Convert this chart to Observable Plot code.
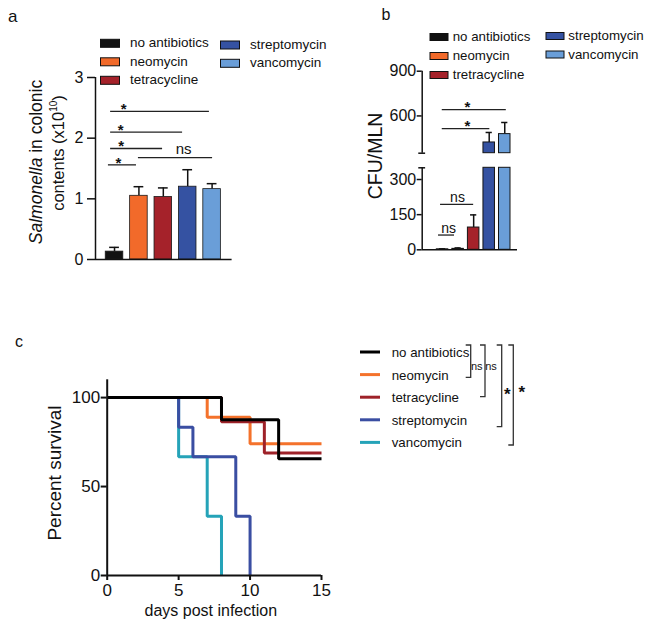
<!DOCTYPE html>
<html>
<head>
<meta charset="utf-8">
<script src="https://cdn.jsdelivr.net/npm/d3@7"></script>
<script src="https://cdn.jsdelivr.net/npm/@observablehq/plot@0.6"></script>
<style>
  html, body { margin: 0; padding: 0; background: #fff; }
  #fig { position: relative; width: 648px; height: 629px; overflow: hidden; background: #fff;
         font-family: "Liberation Sans", Arial, Helvetica, sans-serif; }
  #fig svg { position: absolute; }
</style>
</head>
<body>
<div id="fig"></div>
<script>
// ---------------- DATA ----------------
// Panel a: Salmonella in colonic contents (x10^10)
const groupsA = ["no antibiotics", "neomycin", "tetracycline", "streptomycin", "vancomycin"];
const barColors = ["#111111", "#f26a2a", "#a5222a", "#3552a2", "#6a9ed8"];
const colonMean = [0.13, 1.05, 1.03, 1.20, 1.16];
const colonErr  = [0.07, 0.15, 0.15, 0.28, 0.09];
const aTicks = [0, 1, 2, 3];
// significance lines panel a
const sigAx1 = [-0.16, -0.16, -0.16, -0.25, 0.98];
const sigAx2 = [3.89, 2.79, 1.97, 0.90, 4.02];
const sigAy  = [2.44, 2.10, 1.83, 1.56, 1.68];
const sigAlabel = ["*", "*", "*", "*", "ns"];
const sigAlx = [0.37, 0.25, 0.27, 0.16, 2.83];

// Panel b: CFU/MLN
const groupsB = ["no antibiotics", "neomycin", "tretracycline", "streptomycin", "vancomycin"];
const mlnMean = [2, 4, 95, 422, 478];
const mlnErr  = [2, 4, 54, 67, 78];
const bTicksUpper = [600, 900];
const bTicksLower = [0, 150, 300];
const bBreak = 350;
const bMax = 900;
const sigBx1 = [-0.02, -0.02, -0.13, -0.26];
const sigBx2 = [4.10, 3.04, 2.00, 0.77];
const sigBy  = [642, 515, 194, 63];
const sigBlabel = ["*", "*", "ns", "ns"];
const sigBlx = [1.6, 1.6, 0.96, 0.39];

// Panel c: survival
const survNames = ["no antibiotics", "neomycin", "tetracycline", "streptomycin", "vancomycin"];
const survColors = ["#000000", "#f4722b", "#9e2229", "#3a4ea2", "#25a3b8"];
const survDays = [[0, 8, 12, 15], [0, 7, 10, 15], [0, 8, 11, 15], [0, 5, 6, 9, 10], [0, 5, 7, 8]];
const survPct  = [[100, 87.5, 65.6, 65.6], [100, 88.9, 74.1, 74.1], [100, 86.4, 68.8, 68.8],
                  [100, 83.3, 66.7, 33.3, 0], [100, 66.7, 33.3, 0]];
const survDrawOrder = [4, 3, 1, 2, 0];
const cXTicks = [0, 5, 10, 15];
const cYTicks = [0, 50, 100];
const cSigLabels = ["ns", "ns", "*", "*"];

// ---------------- HELPERS ----------------
const FONT = '"Liberation Sans", Arial, Helvetica, sans-serif';
const fig = document.getElementById("fig");
function place(el, left, top) {
  el.style.position = "absolute";
  el.style.left = left + "px";
  el.style.top = top + "px";
  fig.appendChild(el);
}
const intFmt = d => String(d);
const baseStyle = { fontFamily: FONT, fontSize: "15px", color: "#111", background: "transparent", overflow: "visible" };

// ---------------- PANEL A ----------------
const aRows = groupsA.map((g, i) => ({ i, g, v: colonMean[i], top: colonMean[i] + colonErr[i] }));
const aSig = sigAy.map((y, k) => ({ y, x1: sigAx1[k], x2: sigAx2[k], label: sigAlabel[k], lx: sigAlx[k] }));
const aX = [-0.78, 4.82];
const pa = Plot.plot({
  width: 330, height: 290,
  marginLeft: 95, marginRight: 98.4, marginTop: 77, marginBottom: 31,
  x: { domain: aX, axis: null },
  y: { domain: [0, 3], axis: null },
  color: { domain: groupsA, range: barColors },
  style: baseStyle,
  marks: [
    Plot.ruleX(aRows, { x: "i", y1: "v", y2: "top", stroke: "#111", strokeWidth: 1.5 }),
    Plot.ruleY(aRows, { y: "top", x1: d => d.i - 0.2, x2: d => d.i + 0.2, stroke: "#111", strokeWidth: 1.5 }),
    Plot.rectY(aRows, { x1: d => d.i - 0.36, x2: d => d.i + 0.36, y1: 0, y2: "v", fill: "g", stroke: "#1a1a1a", strokeWidth: 0.8 }),
    Plot.axisY(aTicks, { anchor: "left", tickSize: 8, tickPadding: 4, fontSize: 16, strokeWidth: 1.5, label: null, tickFormat: intFmt }),
    Plot.ruleX([aX[0]], { y1: 0, y2: 3, stroke: "#111", strokeWidth: 1.5 }),
    Plot.ruleY([0], { x1: aX[0], x2: aX[1], stroke: "#111", strokeWidth: 1.5 }),
    Plot.ruleY(aSig, { y: "y", x1: "x1", x2: "x2", stroke: "#222", strokeWidth: 1.3 }),
    Plot.text(aSig.filter(d => d.label === "*"), { x: "lx", y: "y", text: "label", lineAnchor: "bottom", dy: 3, fontSize: 15, fontWeight: "bold", fill: "#111" }),
    Plot.text(aSig.filter(d => d.label !== "*"), { x: "lx", y: "y", text: "label", lineAnchor: "bottom", dy: -4, fontSize: 15, fill: "#111" })
  ]
});
place(pa, 0, 0);

// ---------------- PANEL B ----------------
const bRows = groupsB.map((g, i) => ({ i, g: groupsA[i], v: mlnMean[i], top: mlnMean[i] + mlnErr[i] }));
const bSig = sigBy.map((y, k) => ({ y, x1: sigBx1[k], x2: sigBx2[k], label: sigBlabel[k], lx: sigBlx[k] }));
const bX = [-1.31, 4.82];

// upper segment
const pbU = Plot.plot({
  width: 160, height: 100,
  marginLeft: 51.7, marginRight: 13, marginTop: 10.7, marginBottom: 7.3,
  x: { domain: bX, axis: null },
  y: { domain: [bBreak, bMax], axis: null },
  color: { domain: groupsA, range: barColors },
  style: baseStyle,
  marks: [
    Plot.ruleX(bRows.filter(d => d.top > bBreak), { x: "i", y1: d => Math.max(d.v, bBreak), y2: "top", stroke: "#111", strokeWidth: 1.5 }),
    Plot.ruleY(bRows.filter(d => d.top > bBreak), { y: "top", x1: d => d.i - 0.2, x2: d => d.i + 0.2, stroke: "#111", strokeWidth: 1.5 }),
    Plot.rectY(bRows.filter(d => d.v > bBreak), { x1: d => d.i - 0.37, x2: d => d.i + 0.37, y1: bBreak, y2: "v", fill: "g", stroke: "#151515", strokeWidth: 1 }),
    Plot.axisY(bTicksUpper, { anchor: "left", tickSize: 5, tickPadding: 1, fontSize: 16, strokeWidth: 1.5, label: null, tickFormat: intFmt }),
    Plot.ruleX([bX[0]], { y1: bBreak, y2: bMax, stroke: "#111", strokeWidth: 1.5 }),
    Plot.ruleY([bBreak], { x1: bX[0] - 0.22, x2: bX[0] + 0.22, stroke: "#111", strokeWidth: 1.5 }),
    Plot.ruleY(bSig.filter(d => d.y > bBreak), { y: "y", x1: "x1", x2: "x2", stroke: "#222", strokeWidth: 1.3 }),
    Plot.text(bSig.filter(d => d.y > bBreak), { x: "lx", y: "y", text: "label", lineAnchor: "bottom", dy: 2, fontSize: 15, fontWeight: "bold", fill: "#111" })
  ]
});
place(pbU, 370, 60);

// lower segment
const pbL = Plot.plot({
  width: 160, height: 120,
  marginLeft: 51.7, marginRight: 13, marginTop: 7.3, marginBottom: 30.7,
  x: { domain: bX, axis: null },
  y: { domain: [0, bBreak], axis: null },
  color: { domain: groupsA, range: barColors },
  style: baseStyle,
  marks: [
    Plot.ruleX(bRows.filter(d => d.v < bBreak), { x: "i", y1: "v", y2: d => Math.min(d.top, bBreak), stroke: "#111", strokeWidth: 1.5 }),
    Plot.ruleY(bRows.filter(d => d.top < bBreak), { y: "top", x1: d => d.i - 0.2, x2: d => d.i + 0.2, stroke: "#111", strokeWidth: 1.5 }),
    Plot.rectY(bRows, { x1: d => d.i - 0.37, x2: d => d.i + 0.37, y1: 0, y2: d => Math.min(d.v, bBreak), fill: "g", stroke: "#151515", strokeWidth: 1 }),
    Plot.axisY(bTicksLower, { anchor: "left", tickSize: 5, tickPadding: 1, fontSize: 16, strokeWidth: 1.5, label: null, tickFormat: intFmt }),
    Plot.ruleX([bX[0]], { y1: 0, y2: bBreak, stroke: "#111", strokeWidth: 1.5 }),
    Plot.ruleY([bBreak], { x1: bX[0] - 0.22, x2: bX[0] + 0.22, stroke: "#111", strokeWidth: 1.5 }),
    Plot.ruleY([0], { x1: bX[0], x2: bX[1], stroke: "#111", strokeWidth: 1.5 }),
    Plot.ruleY(bSig.filter(d => d.y < bBreak), { y: "y", x1: "x1", x2: "x2", stroke: "#222", strokeWidth: 1.3 }),
    Plot.text(bSig.filter(d => d.y < bBreak), { x: "lx", y: "y", text: "label", lineAnchor: "bottom", dy: -2, fontSize: 14, fill: "#111" })
  ]
});
place(pbL, 370, 160);

// ---------------- PANEL C ----------------
const survRows = [];
for (const s of survDrawOrder) {
  survDays[s].forEach((day, k) => survRows.push({ name: survNames[s], day, pct: survPct[s][k] }));
}
const pc = Plot.plot({
  width: 340, height: 259,
  marginLeft: 106.7, marginRight: 19, marginTop: 9.3, marginBottom: 54,
  x: { domain: [0, 15], axis: null },
  y: { domain: [0, 110], axis: null },
  color: { domain: survNames, range: survColors },
  style: baseStyle,
  marks: [
    Plot.line(survRows, { x: "day", y: "pct", z: "name", stroke: "name", curve: "step-after", strokeWidth: 3, strokeLinejoin: "miter", strokeLinecap: "butt" }),
    Plot.axisY(cYTicks, { anchor: "left", tickSize: 6, tickPadding: 1, fontSize: 17, strokeWidth: 2, label: null, tickFormat: intFmt }),
    Plot.axisX(cXTicks, { anchor: "bottom", tickSize: 5, tickPadding: 3, fontSize: 17, strokeWidth: 2, label: null, tickFormat: intFmt }),
    Plot.ruleX([0], { y1: 0, y2: 110, stroke: "#111", strokeWidth: 2 }),
    Plot.ruleY([0], { x1: 0, x2: 15, stroke: "#111", strokeWidth: 2 })
  ]
});
place(pc, 0, 370);

// ---------------- OVERLAY: labels & legends ----------------
const ov = d3.select(fig).append("svg")
  .attr("width", 648).attr("height", 629)
  .style("left", "0px").style("top", "0px")
  .style("pointer-events", "none")
  .attr("font-family", FONT).attr("fill", "#111");

// panel letters
ov.append("text").attr("x", 8).attr("y", 22).attr("font-size", 17).text("a");
ov.append("text").attr("x", 381.5).attr("y", 20).attr("font-size", 16).text("b");
ov.append("text").attr("x", 15).attr("y", 347).attr("font-size", 16).text("c");

// panel a y label (two lines)
const yl1 = ov.append("text").attr("transform", "translate(41.7,162) rotate(-90)")
  .attr("text-anchor", "middle").attr("font-size", 17.5);
yl1.append("tspan").attr("font-style", "italic").text("Salmonella");
yl1.append("tspan").text(" in colonic");
const yl2 = ov.append("text").attr("transform", "translate(63.5,153) rotate(-90)")
  .attr("text-anchor", "middle").attr("font-size", 16.5);
yl2.append("tspan").text("contents (x10");
yl2.append("tspan").attr("font-size", 10).attr("dy", -7).text("10");
yl2.append("tspan").attr("dy", 7).text(")");

// panel b y label
ov.append("text").attr("transform", "translate(381.7,156) rotate(-90)")
  .attr("text-anchor", "middle").attr("font-size", 19.5).text("CFU/MLN");

// panel c axis labels
ov.append("text").attr("transform", "translate(61,473) rotate(-90)")
  .attr("text-anchor", "middle").attr("font-size", 19).text("Percent survival");
ov.append("text").attr("x", 210.8).attr("y", 615.5)
  .attr("text-anchor", "middle").attr("font-size", 16).text("days post infection");

// legend a
const legA = groupsA.map((g, i) => ({
  g, c: barColors[i],
  sx: i < 3 ? 100.5 : 220.5, tx: i < 3 ? 130 : 250,
  by: i < 3 ? 47.3 + i * 18.5 : 49 + (i - 3) * 18.3
}));
legA.forEach(d => {
  ov.append("rect").attr("x", d.sx).attr("y", d.by - 8).attr("width", 19).attr("height", 8)
    .attr("fill", d.c).attr("stroke", "#111").attr("stroke-width", 1);
  ov.append("text").attr("x", d.tx).attr("y", d.by).attr("font-size", 13.5).text(d.g);
});

// legend b
const legB = groupsB.map((g, i) => ({
  g, c: barColors[i],
  sx: i < 3 ? 430 : 546, tx: i < 3 ? 452.7 : 568.3,
  by: i < 3 ? 41 + i * 19 : 40 + (i - 3) * 18.5
}));
legB.forEach(d => {
  ov.append("rect").attr("x", d.sx).attr("y", d.by - 7.5).attr("width", 18).attr("height", 7)
    .attr("fill", d.c).attr("stroke", "#111").attr("stroke-width", 1);
  ov.append("text").attr("x", d.tx).attr("y", d.by).attr("font-size", 13.3).text(d.g);
});

// legend c
const legCy = survNames.map((_, i) => 352 + i * 22.6);
survNames.forEach((n, i) => {
  ov.append("line").attr("x1", 360).attr("x2", 380).attr("y1", legCy[i]).attr("y2", legCy[i])
    .attr("stroke", survColors[i]).attr("stroke-width", 3);
  ov.append("text").attr("x", 391.7).attr("y", legCy[i] + 5).attr("font-size", 13.3).text(n);
});

// brackets in panel c
const brX = [470.7, 485, 501.7, 513.3];
const brBottom = [377.3, 396.7, 426.7, 445];
const brTop = 345;
cSigLabels.forEach((lab, k) => {
  const x = brX[k];
  ov.append("path")
    .attr("d", `M${x - 5},${brTop} H${x} V${brBottom[k]} H${x - 5}`)
    .attr("fill", "none").attr("stroke", "#333").attr("stroke-width", 1.3);
  if (lab === "ns") {
    ov.append("text").attr("x", x + 6).attr("y", 370).attr("text-anchor", "middle")
      .attr("font-size", 11).text(lab);
  } else {
    ov.append("text").attr("x", x + (k === 2 ? 5.6 : 8.4)).attr("y", k === 2 ? 400 : 398)
      .attr("text-anchor", "middle").attr("font-size", 17).attr("font-weight", "bold").text(lab);
  }
});
</script>
</body>
</html>
